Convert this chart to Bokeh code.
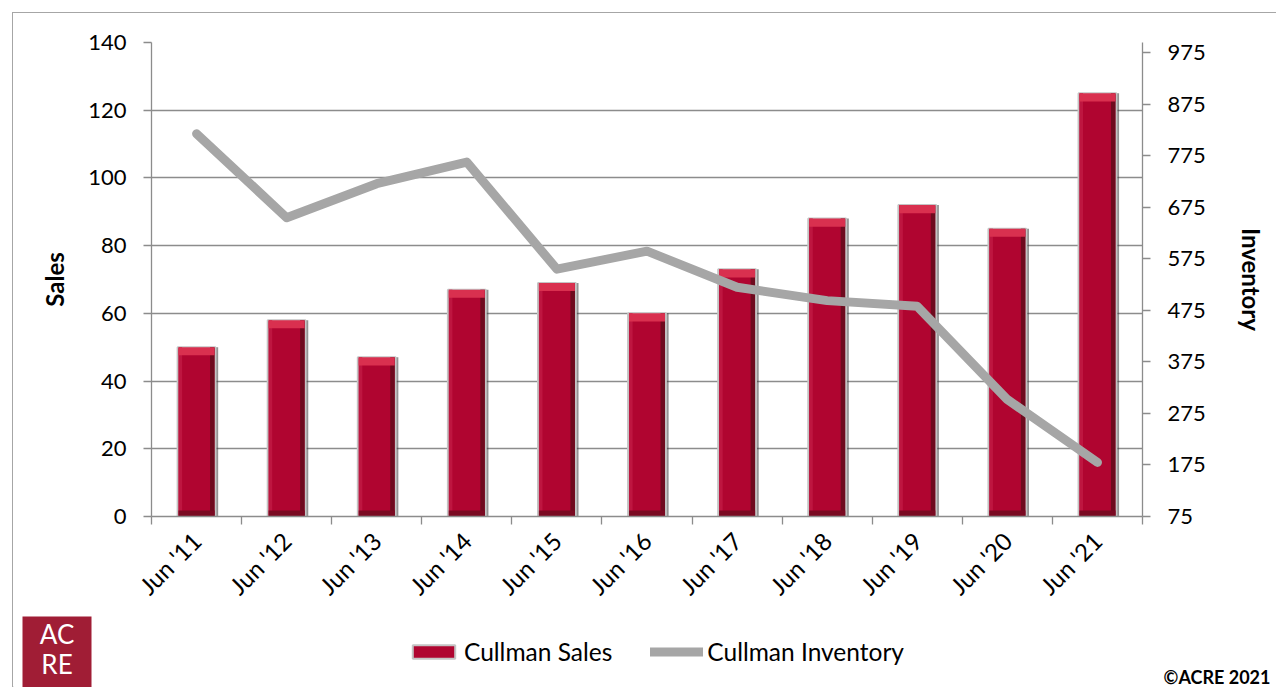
import math
from bokeh.plotting import figure
from bokeh.layouts import column
from bokeh.models import (Range1d, LinearAxis, FixedTicker, ColumnDataSource,
                          Legend, LegendItem, Label, BoxAnnotation)
from bokeh.transform import dodge
from bokeh.embed import file_html
from bokeh.resources import INLINE

categories = ["Jun '11", "Jun '12", "Jun '13", "Jun '14", "Jun '15", "Jun '16",
              "Jun '17", "Jun '18", "Jun '19", "Jun '20", "Jun '21"]
sales = [50, 58, 47, 67, 69, 60, 73, 88, 92, 85, 125]
inventory = [818, 655, 721, 763, 555, 590, 520, 494, 483, 302, 180]
left_ticks = [0, 20, 40, 60, 80, 100, 120, 140]
right_ticks = [75, 175, 275, 375, 475, 575, 675, 775, 875, 975]
series_names = ["Cullman Sales", "Cullman Inventory"]

FONT = "Lato"
GRAY = "#8C8C8C"
BAR = "#B00530"
BAR_EDGE = "#C4C4C4"
LINE = "#A6A6A6"

xs = [i + 0.5 for i in range(len(categories))]
src = ColumnDataSource(dict(
    x=xs, sales=sales, inv=inventory,
    bevel=[s - 2.4 for s in sales],
))

W = 1263
p = figure(width=W, height=600, output_backend="svg", toolbar_location=None,
           x_range=Range1d(0, len(categories)), y_range=Range1d(0, 140),
           min_border_left=138, min_border_right=134, min_border_top=29,
           min_border_bottom=97)
p.frame_align = False
p.outline_line_color = None
p.background_fill_color = "white"
p.border_fill_color = "white"
p.extra_y_ranges = {"inv": Range1d(75, 995)}

# grid
p.xgrid.visible = False
p.ygrid.ticker = FixedTicker(ticks=left_ticks)
p.ygrid.grid_line_color = GRAY
p.ygrid.grid_line_width = 1.3

def style_axis(ax, label, standoff):
    ax.axis_label = label
    ax.axis_label_text_font = FONT
    ax.axis_label_text_font_style = "bold"
    ax.axis_label_text_font_size = "24px"
    ax.axis_label_text_color = "black"
    ax.axis_label_standoff = standoff
    ax.major_label_text_font = FONT
    ax.major_label_text_font_size = "22px"
    ax.major_label_text_color = "black"
    ax.major_label_standoff = 17
    ax.axis_line_color = GRAY
    ax.axis_line_width = 1.3
    ax.major_tick_line_color = GRAY
    ax.major_tick_line_width = 1.3
    ax.major_tick_out = 8
    ax.major_tick_in = 0
    ax.minor_tick_line_color = None

ya = p.yaxis[0]
ya.ticker = FixedTicker(ticks=left_ticks)
style_axis(ya, "Sales", 16)

ra = LinearAxis(y_range_name="inv", ticker=FixedTicker(ticks=right_ticks))
style_axis(ra, "Inventory", 28)
p.add_layout(ra, "right")

# bottom axis: labels at category centres, ticks at category boundaries
xa = p.xaxis[0]
xa.ticker = FixedTicker(ticks=xs, minor_ticks=list(range(len(categories) + 1)))
xa.major_label_overrides = {x: c for x, c in zip(xs, categories)}
xa.major_label_orientation = math.pi / 4
xa.major_label_text_font = FONT
xa.major_label_text_font_size = "24px"
xa.major_label_text_color = "black"
xa.major_label_standoff = 12
xa.axis_line_color = GRAY
xa.axis_line_width = 1.3
xa.major_tick_out = 0
xa.major_tick_in = 0
xa.major_tick_line_color = None
xa.minor_tick_line_color = GRAY
xa.minor_tick_line_width = 1.3
xa.minor_tick_out = 8
xa.minor_tick_in = 0

# bars (bevelled look)
BW = 0.42
p.vbar(x=dodge("x", 0.215, range=None), width=0.05, top="sales", bottom=0,
       source=src, fill_color="#3C3C3C", line_color=None, fill_alpha=0.55)
p.vbar(x="x", width=BW, top="sales", bottom=0, source=src,
       fill_color=BAR, line_color=BAR_EDGE, line_width=2)
p.vbar(x=dodge("x", 0.175, range=None), width=0.05, top="sales", bottom=0,
       source=src, fill_color="#6E0A1E", line_color=None)
p.vbar(x=dodge("x", -0.18, range=None), width=0.04, top="sales", bottom=0,
       source=src, fill_color="#BE1640", line_color=None)
p.vbar(x="x", width=BW - 0.02, top="sales", bottom="bevel", source=src,
       fill_color="#D9304F", line_color=None)
p.vbar(x="x", width=BW - 0.02, top=1.8, bottom=0, source=src,
       fill_color="#7A0A22", line_color=None)

# inventory line
p.line(x="x", y="inv", source=src, y_range_name="inv",
       line_color=LINE, line_width=9, line_cap="round", line_join="round")

# ---- footer strip: logo, legend, copyright ----
FH = 74
f = figure(width=W, height=FH, output_backend="svg", toolbar_location=None,
           x_range=Range1d(0, W), y_range=Range1d(0, FH),
           x_axis_location=None, y_axis_location=None,
           min_border=0, min_border_left=0, min_border_right=0,
           min_border_top=0, min_border_bottom=0)
f.frame_align = False
f.outline_line_color = None
f.grid.visible = False
f.background_fill_color = "white"
f.border_fill_color = "white"

# legend-only proxies, placed outside the visible range
proxy = ColumnDataSource(dict(x=[-1000, -999], y=[-1000, -1000], top=[-1000, -1000]))
r_bar = f.vbar(x="x", top="top", bottom=-1001, width=0.5, source=proxy,
               fill_color=BAR, line_color=BAR_EDGE, line_width=2)
r_line = f.line(x="x", y="y", source=proxy, line_color=LINE, line_width=9,
                line_cap="round")

legend = Legend(items=[LegendItem(label=series_names[0], renderers=[r_bar]),
                       LegendItem(label=series_names[1], renderers=[r_line])],
                orientation="horizontal", location=(394, 21))
legend.label_text_font = FONT
legend.label_text_font_size = "24.5px"
legend.label_text_color = "black"
legend.glyph_width = 53
legend.glyph_height = 17
legend.label_standoff = 4
legend.spacing = 38
legend.padding = 0
legend.margin = 0
legend.border_line_color = None
legend.background_fill_alpha = 0
f.add_layout(legend, "center")

f.add_layout(BoxAnnotation(left=9, right=78, bottom=-10, top=71,
                           fill_color="#A01D35", fill_alpha=1, line_color=None))
for txt, yy in (("AC", 54), ("RE", 24)):
    f.add_layout(Label(x=43.5, y=yy, text=txt, text_font=FONT,
                       text_font_size="26px", text_color="white",
                       text_align="center", text_baseline="middle"))
f.add_layout(Label(x=1257, y=11, text="\u00a9ACRE 2021", text_font=FONT,
                   text_font_size="18px", text_font_style="bold",
                   text_color="black", text_align="right", text_baseline="middle"))

layout = column(p, f, spacing=0,
                styles={"margin": "12px 0 0 12px",
                        "border-top": "1px solid #A6A6A6",
                        "border-left": "1px solid #A6A6A6"})

open("out.html", "w").write(file_html(layout, INLINE))
